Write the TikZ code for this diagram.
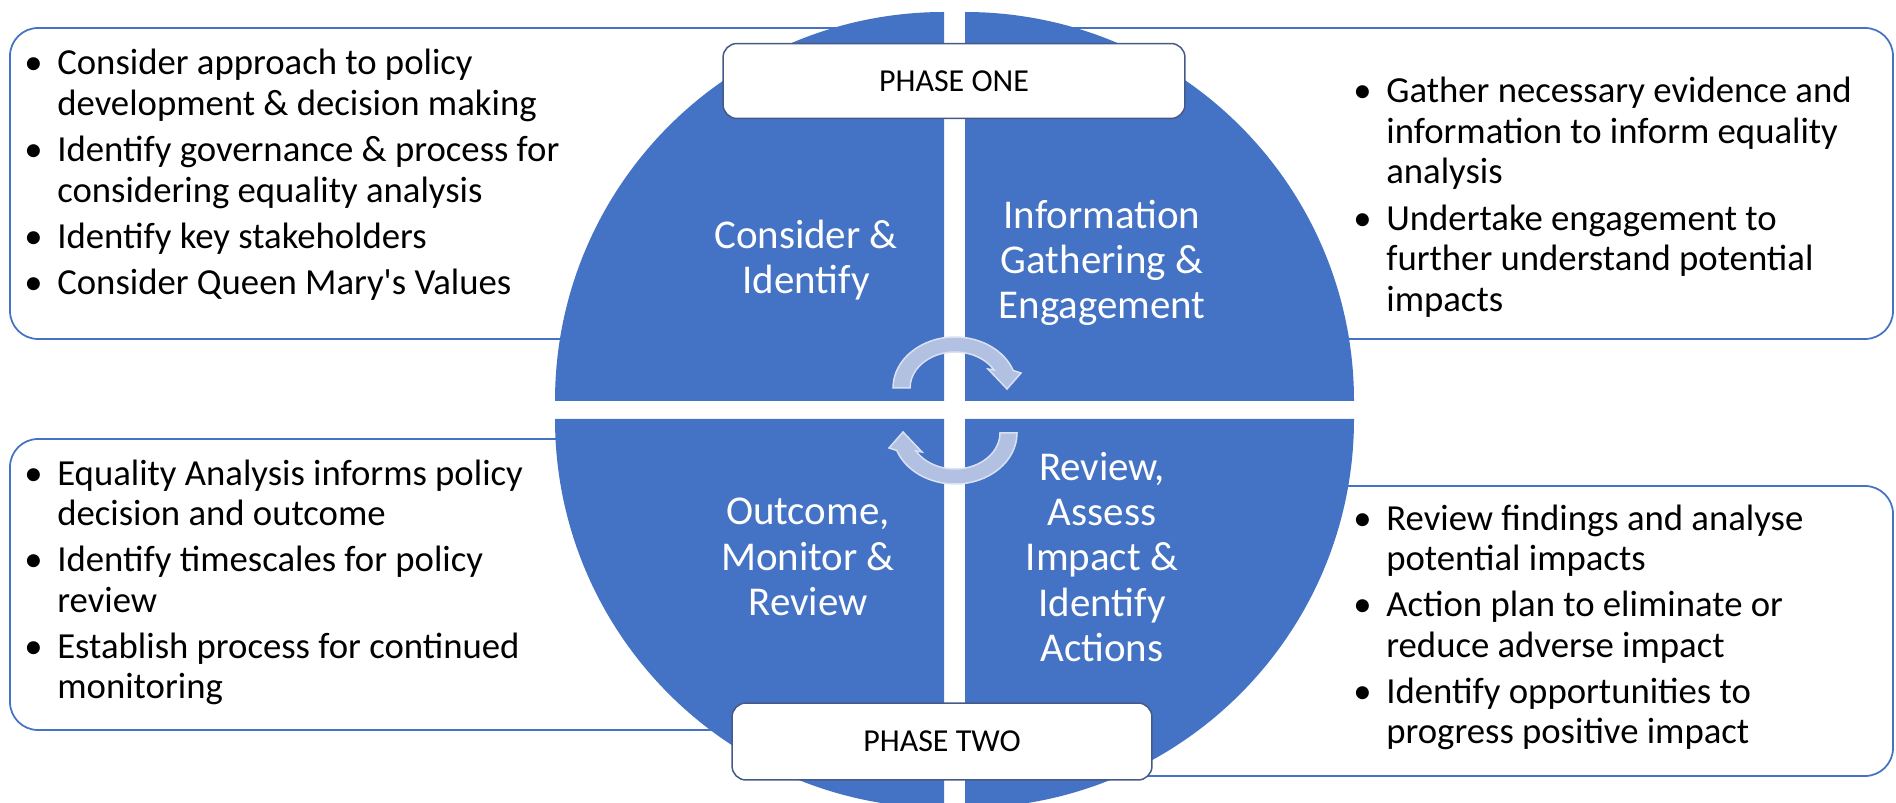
\documentclass[tikz,border=0pt]{standalone}
\usepackage{fontspec}
\setmainfont{Carlito}
\usepackage{array}

\definecolor{quadblue}{HTML}{4472C4}
\definecolor{arrowfill}{RGB}{178,193,226}
\definecolor{arrowline}{RGB}{218,225,242}
\definecolor{phaseline}{RGB}{70,90,135}

\begin{document}
\begin{tikzpicture}[x=0.02cm, y=0.02cm]
            \tikzset{infobox/.style = {draw=quadblue, line width=0.035cm, rounded corners=0.56cm, fill=white}}
            \tikzset{quad/.style = {fill=quadblue}}
            \tikzset{phasebox/.style = {draw=phaseline, line width=0.03cm, fill=white, rounded corners=0.28cm, font=\fontsize{18.2}{21}\selectfont}}
            \tikzset{steplabel/.style = {text=white, align=center, font=\fontsize{23.3}{25.8}\selectfont}}
            \tikzset{bullets/.style = {anchor=base west, inner sep=0pt, font=\fontsize{20.9}{23}\selectfont}}
            \tikzset{cyclearrow/.style = {fill=arrowfill, draw=arrowline, line width=0.03cm}}

            \useasboundingbox (0,0) rectangle (1896,-803);

            % boxes behind the circle
            \draw[infobox] (10,-28) rectangle (900,-339);
            \draw[infobox] (1000,-28) rectangle (1893,-339);
            \draw[infobox] (10,-439) rectangle (900,-730);
            \draw[infobox] (1000,-486) rectangle (1893,-776);

            \fill[quad] (944,-401) -- (555,-401) arc[start angle=180, end angle=90, radius=389] -- cycle;
            \fill[quad] (965,-401) -- (965,-12) arc[start angle=90, end angle=0, radius=389] -- cycle;
            \fill[quad] (944,-419) -- (555,-419) arc[start angle=180, end angle=270, radius=389] -- cycle;
            \fill[quad] (965,-419) -- (1354,-419) arc[start angle=0, end angle=-90, radius=389] -- cycle;

            \node[phasebox, minimum width=9.24cm, minimum height=1.5cm] (phaseone) at (954,-81) {PHASE ONE};
            \node[phasebox, minimum width=8.4cm, minimum height=1.54cm] (phasetwo) at (942,-741.5) {PHASE TWO};

            \node[steplabel] (consider) at (806,-260) {Consider \&\\Identify};
            \node[steplabel] (gather) at (1102,-263) {Information\\Gathering \&\\Engagement};
            \node[steplabel] (outcome) at (808,-557) {Outcome,\\Monitor \&\\Review};
            \node[steplabel] (assess) at (1102,-557) {Review,\\Assess\\Impact \&\\Identify\\Actions};

            \foreach \a in {0,180}
                \filldraw[cyclearrow, rotate around={\a:(955,-410.5)}, shift={(955,-388)}]
                    (-45,0) -- (-62,0) arc[start angle=180, end angle=20, x radius=62, y radius=51]
                    -- (66,15) -- (52,-1) -- (33,19) -- (39,18)
                    arc[start angle=30, end angle=180, x radius=45, y radius=36] -- cycle;

            \node[bullets] (considerlist) at (24,-75) {\begin{tabular}[t]{@{}p{0.66cm}@{}l@{}}
                \textbullet & Consider approach to policy\\
                            & development \& decision making\\[3.4pt]
                \textbullet & Identify governance \& process for\\
                            & considering equality analysis\\[3.4pt]
                \textbullet & Identify key stakeholders\\[3.4pt]
                \textbullet & Consider Queen Mary\textquotesingle s Values
            \end{tabular}};
            \node[bullets] (gatherlist) at (1353,-103) {\begin{tabular}[t]{@{}p{0.66cm}@{}l@{}}
                \textbullet & Gather necessary evidence and\\
                            & information to inform equality\\
                            & analysis\\[3.4pt]
                \textbullet & Undertake engagement to\\
                            & further understand potential\\
                            & impacts
            \end{tabular}};
            \node[bullets] (outcomelist) at (24,-485) {\begin{tabular}[t]{@{}p{0.66cm}@{}l@{}}
                \textbullet & Equality Analysis informs policy\\
                            & decision and outcome\\[3.4pt]
                \textbullet & Identify timescales for policy\\
                            & review\\[3.4pt]
                \textbullet & Establish process for continued\\
                            & monitoring
            \end{tabular}};
            \node[bullets] (assesslist) at (1353,-530) {\begin{tabular}[t]{@{}p{0.66cm}@{}l@{}}
                \textbullet & Review findings and analyse\\
                            & potential impacts\\[3.4pt]
                \textbullet & Action plan to eliminate or\\
                            & reduce adverse impact\\[3.4pt]
                \textbullet & Identify opportunities to\\
                            & progress positive impact
            \end{tabular}};
\end{tikzpicture}
\end{document}
